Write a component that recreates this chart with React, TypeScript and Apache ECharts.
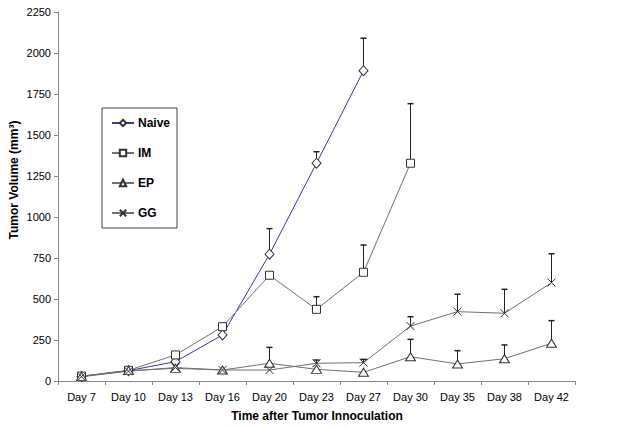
import React, { useEffect, useRef } from "react";
import * as echarts from "echarts";

const categories = ["Day 7", "Day 10", "Day 13", "Day 16", "Day 20", "Day 23", "Day 27", "Day 30", "Day 35", "Day 38", "Day 42"];
const yTicks = [0, 250, 500, 750, 1000, 1250, 1500, 1750, 2000, 2250];

const naive = [28, 63, 118, 281, 773, 1328, 1892, null, null, null, null];
const naiveErr = [0, 0, 0, 0, 156, 70, 198, 0, 0, 0, 0];
const im = [30, 65, 159, 331, 645, 437, 663, 1328, null, null, null];
const imErr = [0, 0, 0, 0, 0, 77, 166, 363, 0, 0, 0];
const ep = [28, 63, 77, 67, 108, 71, 53, 148, 104, 136, 230];
const epErr = [0, 0, 0, 0, 97, 0, 0, 106, 81, 84, 138];
const gg = [26, 60, 82, 67, 67, 108, 112, 335, 423, 413, 600];
const ggErr = [0, 0, 0, 0, 0, 20, 20, 57, 106, 146, 176];

const FONT = "Arial, 'Liberation Sans', sans-serif";
const X_SYMBOL = "path://M0,0L10,10M10,0L0,10";

function errData(vals: (number | null)[], errs: number[]) {
  const out: number[][] = [];
  vals.forEach((v, i) => {
    if (v != null && errs[i] > 0) out.push([i, v, errs[i]]);
  });
  return out;
}

export default function App() {
  const ref = useRef<HTMLDivElement>(null);
  useEffect(() => {
    if (!ref.current) return;
    const chart = echarts.init(ref.current, undefined, { renderer: "svg" });
    const markerStyle = { color: "#ffffff", borderColor: "#333333", borderWidth: 1 };
    const lineSeries = (name: string, data: (number | null)[], symbol: string, size: number | number[], lineColor: string) => ({
      name,
      type: "line",
      data,
      symbol,
      symbolSize: size,
      showSymbol: true,
      connectNulls: false,
      z: 3,
      lineStyle: { color: lineColor, width: 1 },
      itemStyle: markerStyle,
      emphasis: { disabled: true },
    });
    const errSeries = (data: number[][]) => ({
      type: "custom",
      z: 2,
      silent: true,
      data,
      renderItem: (params: any, api: any) => {
        const x = api.value(0);
        const v = api.value(1);
        const e = api.value(2);
        const p0 = api.coord([x, v]);
        const p1 = api.coord([x, v + e]);
        return {
          type: "group",
          children: [
            { type: "line", shape: { x1: p0[0], y1: p0[1], x2: p1[0], y2: p1[1] }, style: { stroke: "#222222", lineWidth: 1 } },
            { type: "line", shape: { x1: p1[0] - 3, y1: p1[1], x2: p1[0] + 3, y2: p1[1] }, style: { stroke: "#222222", lineWidth: 1.5 } },
          ],
        };
      },
    });
    chart.setOption({
      animation: false,
      backgroundColor: "#ffffff",
      grid: { left: 58, top: 12, right: 54, bottom: 47 },
      legend: {
        data: ["Naive", "IM", "EP", "GG"],
        orient: "vertical",
        left: 102,
        top: 108,
        padding: [9, 7, 9, 9],
        itemGap: 18,
        itemWidth: 22,
        itemHeight: 8,
        borderColor: "#444444",
        borderWidth: 1,
        backgroundColor: "#ffffff",
        selectedMode: false,
        textStyle: { fontFamily: FONT, fontWeight: "bold", fontSize: 12, color: "#000000", padding: [0, 0, 0, -1] },
      },
      xAxis: {
        type: "category",
        data: categories,
        boundaryGap: true,
        axisLine: { lineStyle: { color: "#888888", width: 1 } },
        axisTick: { show: true, length: 4, lineStyle: { color: "#888888" } },
        axisLabel: { fontFamily: FONT, fontSize: 11, color: "#000000", margin: 10 },
        splitLine: { show: false },
      },
      yAxis: {
        type: "value",
        min: 0,
        max: yTicks[yTicks.length - 1],
        interval: yTicks[1] - yTicks[0],
        axisLine: { show: true, lineStyle: { color: "#888888", width: 1 } },
        axisTick: { show: true, length: 4, lineStyle: { color: "#888888" } },
        axisLabel: { fontFamily: FONT, fontSize: 11, color: "#000000", margin: 7, formatter: (v: number) => String(v) },
        splitLine: { show: false },
      },
      graphic: [
        {
          type: "text",
          x: 14,
          y: 180,
          rotation: Math.PI / 2,
          style: { text: "Tumor Volume (mm³)", font: `bold 12px ${FONT}`, fill: "#000000", align: "center", verticalAlign: "middle" },
        },
        {
          type: "text",
          x: 317,
          y: 416,
          style: { text: "Time after Tumor Innoculation", font: `bold 12px ${FONT}`, fill: "#000000", align: "center", verticalAlign: "middle" },
        },
      ],
      series: [
        errSeries(errData(naive, naiveErr)),
        errSeries(errData(im, imErr)),
        errSeries(errData(ep, epErr)),
        errSeries(errData(gg, ggErr)),
        lineSeries("Naive", naive, "diamond", [9, 10], "#3a3a9a"),
        lineSeries("IM", im, "rect", 8, "#707070"),
        lineSeries("EP", ep, "triangle", [10, 8], "#707070"),
        lineSeries("GG", gg, X_SYMBOL, 8, "#707070"),
      ],
    });
    return () => chart.dispose();
  }, []);
  return <div ref={ref} style={{ position: "fixed", left: 0, top: 0, width: 629, height: 428 }} />;
}
